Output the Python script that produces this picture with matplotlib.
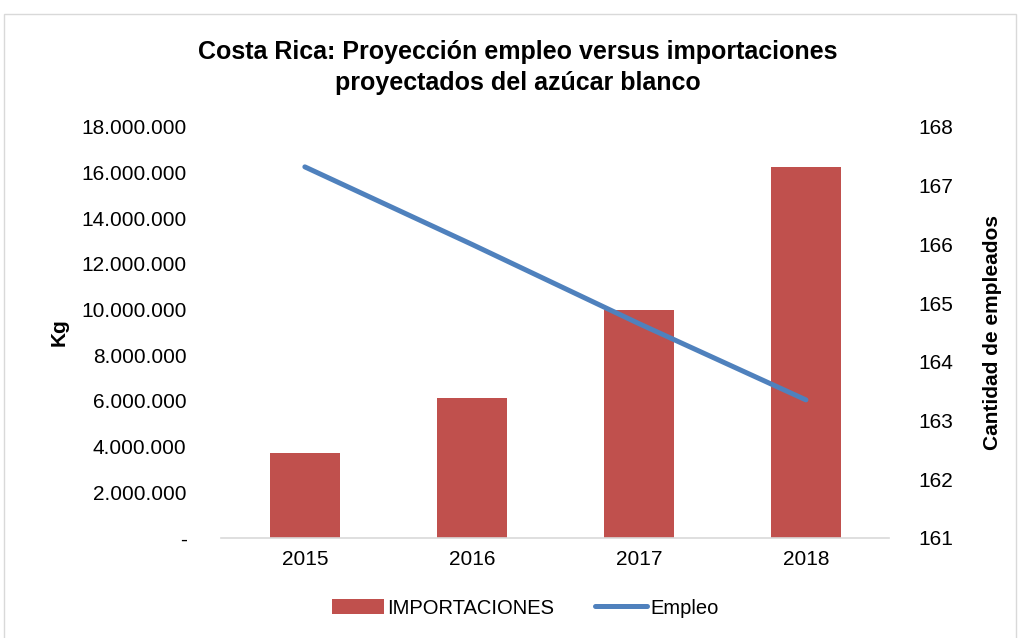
import numpy as np
import matplotlib
matplotlib.use("Agg")
import matplotlib.pyplot as plt
from matplotlib.patches import FancyBboxPatch
from matplotlib.ticker import FuncFormatter

years = ["2015", "2016", "2017", "2018"]
importaciones = [3700000, 6130000, 10000000, 16230000]
empleo = [167.32, 166.0, 164.65, 163.35]

BAR_COLOR = "#C0504D"
LINE_COLOR = "#4F81BD"

plt.rcParams["font.family"] = ["Liberation Sans", "DejaVu Sans"]

fig = plt.figure(figsize=(10.2, 6.38), dpi=100)
# chart border
fig.patches.append(FancyBboxPatch((0.004, -0.02), 0.992, 0.998, boxstyle="square,pad=0",
                                  transform=fig.transFigure, fill=False,
                                  edgecolor="#D9D9D9", linewidth=1.0))

ax = fig.add_axes([0.217, 0.157, 0.655, 0.644])
x = np.arange(len(years))
ax.bar(x, importaciones, width=0.42, color=BAR_COLOR, label="IMPORTACIONES", zorder=2)
ax.set_xlim(-0.5, len(years) - 0.5)
ax.set_ylim(0, 18000000)
ax.set_yticks(np.arange(0, 18000001, 2000000))
ax.yaxis.set_major_formatter(FuncFormatter(
    lambda v, p: "-" if v == 0 else f"{int(v):,}".replace(",", ".")))
ax.set_xticks(x)
ax.set_xticklabels(years)
for s in ["top", "right", "left"]:
    ax.spines[s].set_visible(False)
ax.spines["bottom"].set_color("#D9D9D9")
ax.spines["bottom"].set_linewidth(1.2)
ax.tick_params(axis="both", length=0, labelsize=15, colors="black")
ax.tick_params(axis="y", pad=25)
ax.tick_params(axis="x", pad=9)
ax.set_ylabel("Kg", fontsize=15, fontweight="bold", labelpad=9)

ax2 = ax.twinx()
ax2.plot(x, empleo, color=LINE_COLOR, linewidth=3.6, solid_capstyle="round",
         label="Empleo", zorder=3)
ax2.set_ylim(161, 168)
ax2.set_yticks(range(161, 169))
for s in ["top", "right", "left", "bottom"]:
    ax2.spines[s].set_visible(False)
ax2.tick_params(axis="y", length=0, labelsize=15, pad=21)
ax2.set_ylabel("Cantidad de empleados", fontsize=15, fontweight="bold", labelpad=21)

fig.suptitle("Costa Rica: Proyección empleo versus importaciones\nproyectados del azúcar blanco",
             x=0.508, y=0.937, va="top", fontsize=18, fontweight="bold", linespacing=1.38)

h1, l1 = ax.get_legend_handles_labels()
h2, l2 = ax2.get_legend_handles_labels()
fig.legend(h1 + h2, l1 + l2, loc="center", bbox_to_anchor=(0.515, 0.047), ncol=2,
           frameon=False, fontsize=14.5, handlelength=2.6, handletextpad=0.15,
           columnspacing=2.0, handleheight=0.75)

fig.savefig("out.png", dpi=100)
